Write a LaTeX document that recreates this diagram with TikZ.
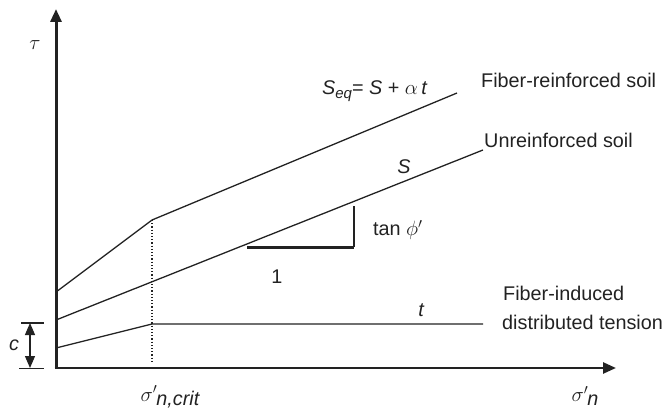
\documentclass[tikz,border=0pt]{standalone}
\usepackage{fontspec}
\setmainfont{Liberation Sans}
\usetikzlibrary{arrows.meta}
\definecolor{ink}{HTML}{222222}
\newcommand{\gi}[1]{$#1$}
\tikzset{
  thinline/.style={draw=ink, line width=1.3pt},
  axisline/.style={draw=ink, line width=3pt, -{Triangle[width=11pt,length=13pt]}},
  lbl/.style={inner sep=0pt, text=ink, font=\fontsize{19.8}{23}\selectfont},
}
\begin{document}
\begin{tikzpicture}[x=1pt,y=-1pt]
\useasboundingbox (0,0) rectangle (667,409);
% key points
\coordinate (O) at (56,368);
\coordinate (Ytop) at (56,9);
\coordinate (Xend) at (616,368);
\coordinate (Fa) at (56,292);
\coordinate (Fk) at (152,220);
\coordinate (Fe) at (457,93);
\coordinate (Sa) at (56,320);
\coordinate (Se) at (483,150);
\coordinate (Ta) at (56,348);
\coordinate (Tk) at (152,324);
\coordinate (Te) at (483,324);
\coordinate (Db) at (152,363);
\coordinate (Ra) at (247,247);
\coordinate (Rb) at (354,247);
\coordinate (Rc) at (354,206);
\coordinate (Ct) at (30,323);
\coordinate (Cb) at (30,368);
\coordinate (Ctl) at (21,323);
\coordinate (Ctr) at (44,323);
\coordinate (Cbl) at (19,368.5);
\coordinate (Cbr) at (44,368.5);
% lines
\draw[thinline] (Fa) -- (Fk) -- (Fe);
\draw[thinline] (Sa) -- (Se);
\draw[thinline] (Ta) -- (Tk) -- (Te);
\draw[draw=ink, line width=1.2pt, dotted] (Fk) -- (Db);
\draw[draw=ink, line width=3pt] (Ra) -- (Rb);
\draw[draw=ink, line width=1.5pt] (Rb) -- (Rc);
% axes
\draw[axisline] ([yshift=1.5pt]O) -- (Ytop);
\draw[axisline, line width=2.6pt] ([xshift=-1.5pt]O) -- (Xend);
% c dimension
\draw[draw=ink, line width=1.3pt] (Ctl) -- (Ctr);
\draw[draw=ink, line width=1.3pt] (Cbl) -- (Cbr);
\draw[draw=ink, line width=1.3pt, {Triangle[width=10pt,length=12pt]}-{Triangle[width=10pt,length=12pt]}] (Ct) -- (Cb);
% labels
\node[lbl, anchor=center] (tau) at (35,45) {\gi{\tau}};
\node[lbl, anchor=center] (c) at (14,345) {\itshape c};
\node[lbl, anchor=center] (sncrit) at (170,397) {\gi{\sigma'}\kern-1pt\raisebox{-4pt}{\itshape n,crit}};
\node[lbl, anchor=center] (sn) at (585,396) {\gi{\sigma'}\kern-1pt\raisebox{-4pt}{\itshape n}};
\node[lbl, anchor=west] (seq) at (322,91) {\itshape S\raisebox{-4pt}{\fontsize{15}{17}\selectfont eq}\upshape= \itshape S \upshape+ \gi{\alpha}\,\itshape t};
\node[lbl, anchor=west] (fr) at (481,80) {Fiber-reinforced soil};
\node[lbl, anchor=west] (ur) at (484,140) {Unreinforced soil};
\node[lbl, anchor=center] (S) at (404,167) {\itshape S};
\node[lbl, anchor=west] (tan) at (373,230) {tan \gi{\phi'}};
\node[lbl, anchor=center] (one) at (277,277) {1};
\node[lbl, anchor=center] (t) at (421,310) {\itshape t};
\node[lbl, anchor=west] (fi) at (503,293) {Fiber-induced};
\node[lbl, anchor=west] (dt) at (502,322) {distributed tension};
\end{tikzpicture}
\end{document}
